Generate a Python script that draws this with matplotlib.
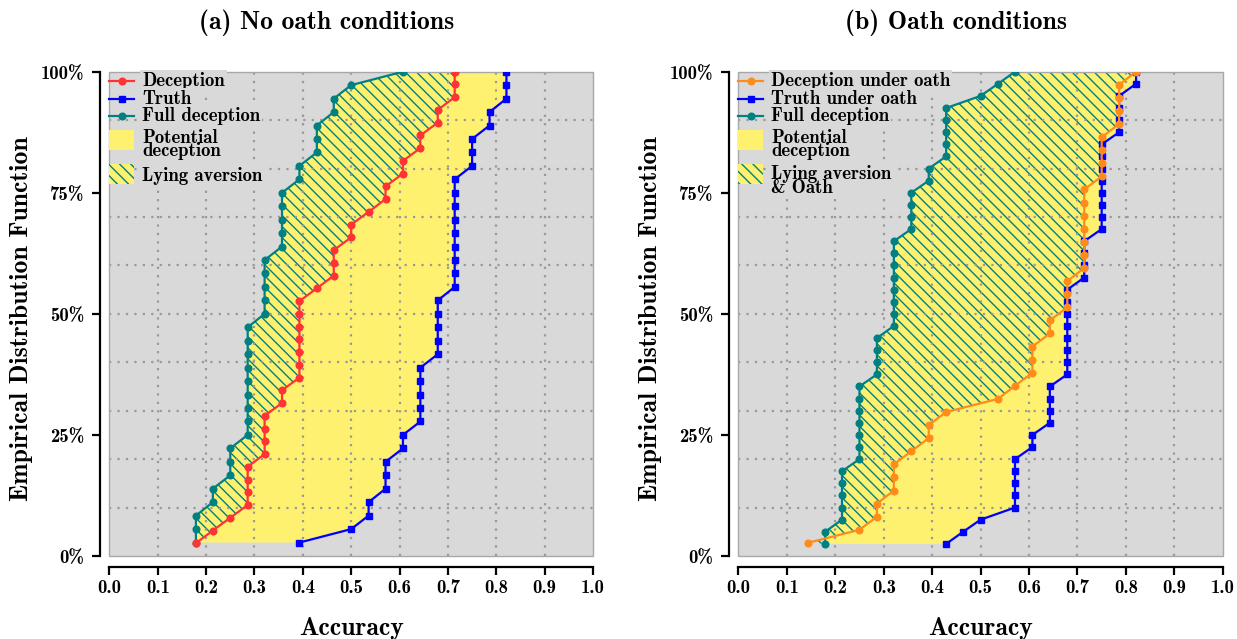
import numpy as np
import matplotlib
matplotlib.use("Agg")
import matplotlib.pyplot as plt
from matplotlib.patches import Rectangle

# accuracy of each subject (share of correct answers), one list per group
deception = [0.179, 0.214, 0.250, 0.286, 0.286, 0.286, 0.286, 0.321, 0.321, 0.321,
             0.321, 0.357, 0.357, 0.393, 0.393, 0.393, 0.393, 0.393, 0.393, 0.393,
             0.429, 0.464, 0.464, 0.464, 0.500, 0.500, 0.536, 0.571, 0.571, 0.607,
             0.607, 0.643, 0.643, 0.679, 0.679, 0.714, 0.714, 0.714]
truth = [0.393, 0.500, 0.536, 0.536, 0.571, 0.571, 0.571, 0.607, 0.607, 0.643,
         0.643, 0.643, 0.643, 0.643, 0.679, 0.679, 0.679, 0.679, 0.679, 0.714,
         0.714, 0.714, 0.714, 0.714, 0.714, 0.714, 0.714, 0.714, 0.750, 0.750,
         0.750, 0.786, 0.786, 0.821, 0.821, 0.821]
full_deception = [0.179, 0.179, 0.179, 0.214, 0.214, 0.250, 0.250, 0.250, 0.286, 0.286,
                  0.286, 0.286, 0.286, 0.286, 0.286, 0.286, 0.286, 0.321, 0.321, 0.321,
                  0.321, 0.321, 0.357, 0.357, 0.357, 0.357, 0.357, 0.393, 0.393, 0.429,
                  0.429, 0.429, 0.464, 0.464, 0.500, 0.607]

deception_oath = [0.143, 0.250, 0.286, 0.286, 0.321, 0.321, 0.321, 0.357, 0.393, 0.393,
                  0.429, 0.536, 0.571, 0.607, 0.607, 0.607, 0.643, 0.643, 0.679, 0.679,
                  0.679, 0.714, 0.714, 0.714, 0.714, 0.714, 0.714, 0.714, 0.750, 0.750,
                  0.750, 0.750, 0.786, 0.786, 0.786, 0.786, 0.821]
truth_oath = [0.429, 0.464, 0.500, 0.571, 0.571, 0.571, 0.571, 0.571, 0.607, 0.607,
              0.643, 0.643, 0.643, 0.643, 0.679, 0.679, 0.679, 0.679, 0.679, 0.679,
              0.679, 0.679, 0.714, 0.714, 0.714, 0.714, 0.750, 0.750, 0.750, 0.750,
              0.750, 0.750, 0.750, 0.750, 0.786, 0.786, 0.786, 0.786, 0.821, 0.821]
full_deception_oath = [0.179, 0.179, 0.214, 0.214, 0.214, 0.214, 0.214, 0.250, 0.250, 0.250,
                       0.250, 0.250, 0.250, 0.250, 0.286, 0.286, 0.286, 0.286, 0.321, 0.321,
                       0.321, 0.321, 0.321, 0.321, 0.321, 0.321, 0.357, 0.357, 0.357, 0.357,
                       0.393, 0.393, 0.429, 0.429, 0.429, 0.429, 0.429, 0.500, 0.536, 0.571]

x_ticks = [0.0, 0.1, 0.2, 0.3, 0.4, 0.5, 0.6, 0.7, 0.8, 0.9, 1.0]
x_tick_labels = ["0.0", "0.1", "0.2", "0.3", "0.4", "0.5", "0.6", "0.7", "0.8", "0.9", "1.0"]
grid_pos = [0.1, 0.2, 0.3, 0.4, 0.5, 0.6, 0.7, 0.8, 0.9]
y_ticks = [0.0, 0.25, 0.5, 0.75, 1.0]
y_tick_labels = ["0%", "25%", "50%", "75%", "100%"]

RED = "#ff3333"
ORANGE = "#ff8c1a"
BLUE = "#0000ff"
TEAL = "#008080"
YELLOW = "#fff170"
BG = "#d9d9d9"
GRID = "#999999"
HATCH = "\\\\\\"
FS_TICK = 13.5
FS_KEY = 13.5
FS_LABEL = 18.5

plt.rcParams["font.family"] = ["cmb10", "DejaVu Serif"]
plt.rcParams["axes.unicode_minus"] = False
plt.rcParams["hatch.linewidth"] = 1.0
plt.rcParams["hatch.color"] = TEAL


def ecdf(vals):
    x = np.sort(np.asarray(vals, dtype=float))
    y = np.arange(1, len(x) + 1) / len(x)
    return x, y


def key_text(ax, y, label, spacing=0.64):
    t = ax.text(0.0676, y, label, transform=ax.transAxes, ha="left", va="center",
                fontsize=FS_KEY, linespacing=spacing, zorder=2.7)
    t.set_bbox(dict(facecolor=BG, edgecolor="none", pad=1.5))


def key_line(ax, y, color, marker, ms):
    ax.plot([0.0, 0.051], [y, y], color=color, lw=1.6, transform=ax.transAxes,
            clip_on=False, zorder=3)
    ax.plot([0.0255], [y], color=color, marker=marker, ms=ms, transform=ax.transAxes,
            clip_on=False, zorder=3)


def draw_panel(ax, lie, lie_color, honest, full, labels, hatch_label, hatch_text_y):
    lx, ly = ecdf(lie)
    tx, ty = ecdf(honest)
    fx, fy = ecdf(full)

    ax.set_facecolor(BG)
    ax.set_xlim(0, 1)
    ax.set_ylim(0, 1)

    # potential deception: between full deception and truth
    ax.fill(np.r_[fx, tx[::-1]], np.r_[fy, ty[::-1]], facecolor=YELLOW,
            edgecolor="none", zorder=1)
    # lying aversion: between full deception and observed deception
    ax.fill(np.r_[fx, lx[::-1]], np.r_[fy, ly[::-1]], facecolor="none",
            edgecolor=TEAL, linewidth=0, hatch=HATCH, zorder=1.2)

    # dotted grid drawn over the shaded areas
    for g in grid_pos:
        ax.axvline(g, color=GRID, linestyle=(0, (1, 2.8)), linewidth=1.6, zorder=2)
        ax.axhline(g, color=GRID, linestyle=(0, (1, 2.8)), linewidth=1.6, zorder=2)

    ax.plot(tx, ty, color=BLUE, marker="s", ms=5, lw=1.6, zorder=3)
    ax.plot(fx, fy, color=TEAL, marker="o", ms=4.8, lw=1.6, zorder=3.1)
    ax.plot(lx, ly, color=lie_color, marker="o", ms=4.8, lw=1.6, zorder=3.2)

    ax.set_xticks(x_ticks)
    ax.set_xticklabels(x_tick_labels)
    ax.set_yticks(y_ticks)
    ax.set_yticklabels(y_tick_labels)
    ax.tick_params(axis="x", direction="out", length=5.5, width=1.6,
                   labelsize=FS_TICK, pad=3)
    ax.tick_params(axis="y", direction="out", length=5.5, width=1.6,
                   labelsize=FS_TICK, pad=6)

    for side in ("top", "right"):
        ax.spines[side].set_visible(False)
    ax.spines["bottom"].set_position(("outward", 8))
    ax.spines["left"].set_position(("outward", 6.5))
    for side in ("bottom", "left"):
        ax.spines[side].set_bounds(0, 1)
        ax.spines[side].set_linewidth(1.6)
    ax.add_patch(Rectangle((0, 0), 1, 1, transform=ax.transAxes, fill=False,
                           edgecolor="#a8a8a8", linewidth=1, zorder=2.6, clip_on=False))

    ax.set_xlabel("Accuracy", fontsize=FS_LABEL)
    ax.xaxis.set_label_coords(0.5, -0.125)
    ax.set_ylabel("Empirical Distribution Function", fontsize=FS_LABEL)
    ax.yaxis.set_label_coords(-0.158, 0.49)

    # key in the top left corner
    key_line(ax, 0.9808, lie_color, "o", 4.8)
    key_line(ax, 0.9436, BLUE, "s", 5)
    key_line(ax, 0.9085, TEAL, "o", 4.8)
    for y, lab in zip([0.9808, 0.9436, 0.9085], labels):
        key_text(ax, y, lab)
    ax.add_patch(Rectangle((0, 0.838), 0.051, 0.0413, transform=ax.transAxes,
                           facecolor=YELLOW, edgecolor="none", zorder=2.8, clip_on=False))
    key_text(ax, 0.8497, "Potential\ndeception")
    ax.add_patch(Rectangle((0, 0.7681), 0.051, 0.0413, transform=ax.transAxes,
                           facecolor=YELLOW, edgecolor=TEAL, linewidth=0, hatch=HATCH,
                           zorder=2.8, clip_on=False))
    key_text(ax, hatch_text_y, hatch_label, spacing=0.72)


fig = plt.figure(figsize=(12.37, 6.39), dpi=100)
ax1 = fig.add_axes([0.0884, 0.1299, 0.3910, 0.7579])
ax2 = fig.add_axes([0.5969, 0.1299, 0.3916, 0.7579])

draw_panel(ax1, deception, RED, truth, full_deception,
           ["Deception", "Truth", "Full deception"], "Lying aversion", 0.7846)
draw_panel(ax2, deception_oath, ORANGE, truth_oath, full_deception_oath,
           ["Deception under oath", "Truth under oath", "Full deception"],
           "Lying aversion\n& Oath", 0.7743)

fig.text(0.2644, 0.954, "(a) No oath conditions", ha="center", va="baseline",
         fontsize=FS_LABEL)
fig.text(0.7728, 0.954, "(b) Oath conditions", ha="center", va="baseline",
         fontsize=FS_LABEL)

fig.savefig("out.png", dpi=100, facecolor="white")
